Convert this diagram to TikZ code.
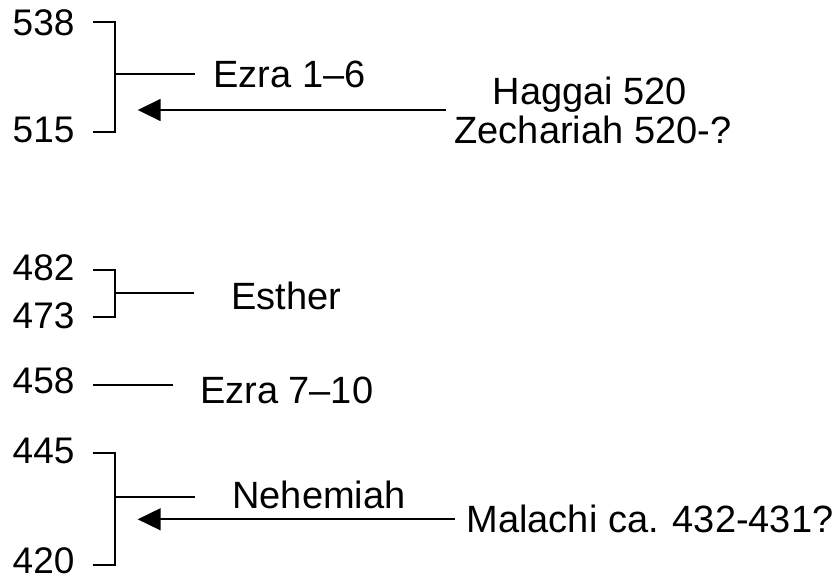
\documentclass[tikz,border=0pt]{standalone}
\usepackage{fontspec}
\setmainfont{Liberation Sans}
\usetikzlibrary{arrows.meta}
\begin{document}
\begin{tikzpicture}[x=1bp,y=-1bp,
  num/.style={anchor=base west,inner sep=0pt,font=\fontsize{37bp}{37bp}\selectfont},
  lbl/.style={anchor=base,inner sep=0pt,font=\fontsize{38bp}{38bp}\selectfont},
  ln/.style={line width=1.7bp,black},
  arr/.style={line width=1.7bp,black,-{Triangle[length=23bp,width=22bp]}}]
\useasboundingbox (0,0) rectangle (840,580);
% numbers
\node[num] (n538) at (12.5,35.8) {538};
\node[num] (n515) at (12.5,143) {515};
\node[num] (n482) at (12.5,280.5) {482};
\node[num] (n473) at (12.5,328) {473};
\node[num] (n458) at (12.5,393) {458};
\node[num] (n445) at (12.5,463) {445};
\node[num] (n420) at (12.5,573) {420};
% labels
\node[lbl] (ezra1) at (289.5,88) {Ezra 1–6};
\node[lbl] (hag) at (590,105) {Haggai 520};
\node[lbl] (zech) at (593,143.3) {Zechariah 520-?};
\node[lbl] (esther) at (286.5,309) {Esther};
\node[lbl] (ezra7) at (286.7,403) {Ezra 7–10};
\node[lbl] (neh) at (319,508) {Nehemiah};
\node[lbl] (mal) at (650,532.5) {Malachi ca. 432-431?};
% bracket coordinates
\coordinate (b1t) at (93.3,22);
\coordinate (b1b) at (93.3,132.3);
\coordinate (b1m) at (115,74.3);
\coordinate (b1e) at (195,74.3);
\coordinate (a1s) at (446,110);
\coordinate (a1e) at (137.7,110);
\coordinate (b2t) at (93.3,270);
\coordinate (b2b) at (93.3,316.7);
\coordinate (b2m) at (115,293.3);
\coordinate (b2e) at (194.3,293.3);
\coordinate (l3s) at (93.3,385);
\coordinate (l3e) at (173.3,385);
\coordinate (b4t) at (93.3,453.3);
\coordinate (b4b) at (93.3,565);
\coordinate (b4m) at (115,496.7);
\coordinate (b4e) at (195,496.7);
\coordinate (a4s) at (455,519.3);
\coordinate (a4e) at (137.7,519.3);
% Ezra 1-6 bracket
\draw[ln] (b1t) -- ++(21.7,0) |- (b1b);
\draw[ln] (b1m) -- (b1e);
\draw[arr] (a1s) -- (a1e);
% Esther bracket
\draw[ln] (b2t) -- ++(21.7,0) |- (b2b);
\draw[ln] (b2m) -- (b2e);
% Ezra 7-10
\draw[ln] (l3s) -- (l3e);
% Nehemiah bracket
\draw[ln] (b4t) -- ++(21.7,0) |- (b4b);
\draw[ln] (b4m) -- (b4e);
\draw[arr] (a4s) -- (a4e);
\end{tikzpicture}
\end{document}
